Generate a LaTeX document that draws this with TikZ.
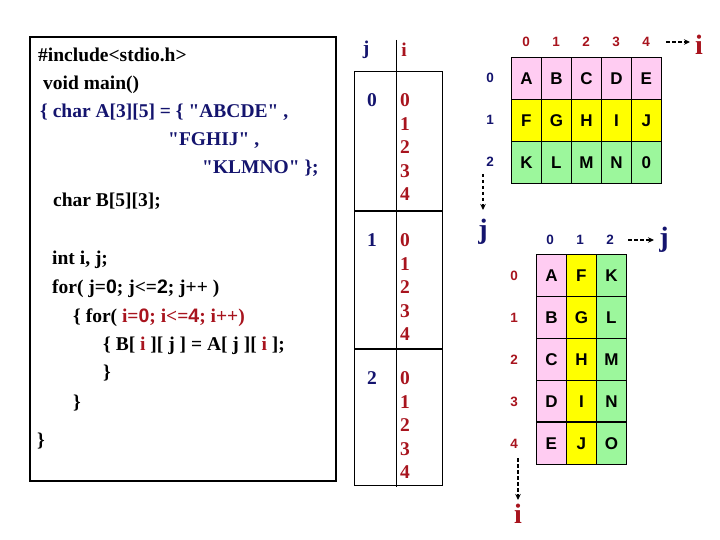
\documentclass[tikz,border=0pt]{standalone}
\usepackage{fontspec}
\setmainfont{Liberation Serif}[Ligatures=TeXOff]
\newfontfamily\arial{Liberation Sans}
\usetikzlibrary{arrows.meta}
\definecolor{navy}{HTML}{14146E}
\definecolor{dred}{HTML}{A8141E}
\definecolor{pinkc}{HTML}{FFCCF2}
\definecolor{yelc}{HTML}{FFFF00}
\definecolor{grnc}{HTML}{9CF79C}
\tikzset{
 code/.style={anchor=base west, inner sep=0, font=\fontsize{19.5}{21}\selectfont\bfseries},
 cell/.style={draw, line width=0.8pt, minimum width=30pt, minimum height=42pt, inner sep=0, font=\arial\fontsize{17}{19}\selectfont\bfseries, anchor=north west},
 idx/.style={font=\arial\fontsize{13.5}{15}\selectfont\bfseries, inner sep=0},
 big/.style={font=\fontsize{28}{30}\selectfont\bfseries, inner sep=0},
 tab/.style={font=\fontsize{19.5}{21}\selectfont\bfseries, inner sep=0},
 dasharrow/.style={line width=1.4pt, dash pattern=on 3.5pt off 2.5pt, -{Stealth[length=6pt,width=5.5pt]}},
 frame/.style={draw, line width=1.2pt},
}
\newcommand{\sn}[1]{{\arial #1}}
\begin{document}
\begin{tikzpicture}[x=1pt,y=-1pt]
\useasboundingbox[fill=white] (0,0) rectangle (720,540);
% code box
\draw[frame] (30,37) rectangle (336,481);
\node[code] (l1) at (38,62) {\#include<stdio.h>};
\node[code] (l2) at (43,90) {void main()};
\node[code,text=navy] (l3) at (40,118) {\{ char A[3][5] = \{ "ABCDE" ,};
\node[code,text=navy] (l4) at (168,146) {"FGHIJ" ,};
\node[code,text=navy] (l5) at (202,174) {"KLMNO" \};};
\node[code] (l6) at (53,207) {char B[5][3];};
\node[code] (l7) at (52,264) {int i, j;};
\node[code] (l8) at (52,293) {for( j=\sn{0}; j<=\sn{2}; j++ )};
\node[code] (l9) at (73,322) {\{ for( \textcolor{dred}{i=\sn{0}; i<=\sn{4}; i++)}};
\node[code] (l10) at (103,350) {\{ B[ \textcolor{dred}{i} ][ j ] = A[ j ][ \textcolor{dred}{i} ];};
\node[code] (l11) at (103,378) {\}};
\node[code] (l12) at (73,408) {\}};
\node[code] (l13) at (37,446) {\}};
% j/i table
\draw[line width=1pt] (354,72) rectangle (442,485);
\draw[line width=1pt] (396,40) -- (396,487);
\draw[line width=1.6pt] (354,211) -- (442,211);
\draw[line width=1.6pt] (354,349) -- (442,349);
\node[tab,text=navy] (hj) at (366,50) {j};
\node[tab,text=dred] (hi) at (404,50) {i};
\foreach \b/\y in {0/100,1/240,2/378}{
  \node[tab,text=navy] (tj\b) at (372,\y) {\b};
  \foreach \k in {0,...,4}{
    \node[tab,text=dred] (ti\b\k) at (405,\y+23.6*\k) {\k};
  }
}
% grid A
\foreach \r/\fillc/\lets in {0/pinkc/{A,B,C,D,E},1/yelc/{F,G,H,I,J},2/grnc/{K,L,M,N,0}}{
  \foreach \L [count=\c from 0] in \lets {
    \node[cell,fill=\fillc] (a\r\c) at (511+30*\c,57+42*\r) {\L};
  }
}
\foreach \c in {0,...,4}{
  \node[idx,text=dred] (ac\c) at (526+30*\c,42) {\c};
}
\foreach \r in {0,1,2}{
  \node[idx,text=navy] (ar\r) at (490,78+42*\r) {\r};
}
\node[big,text=dred] (ai) at (699,45) {i};
\coordinate (ais) at (666,42);
\coordinate (aie) at (690,42);
\draw[dasharrow] (ais) -- (aie);
\coordinate (ajs) at (483,174);
\coordinate (aje) at (483,210);
\node[big,text=navy] (aj) at (483,232) {j};
\draw[dasharrow] (ajs) -- (aje);
% grid B
\foreach \r/\x/\y/\z in {0/A/F/K,1/B/G/L,2/C/H/M,3/D/I/N,4/E/J/O}{
  \node[cell,fill=pinkc] (b\r0) at (536,254+42*\r) {\x};
  \node[cell,fill=yelc] (b\r1) at (566,254+42*\r) {\y};
  \node[cell,fill=grnc] (b\r2) at (596,254+42*\r) {\z};
}
\draw[line width=1.6pt] (b40.north west) -- (b42.north east);
\foreach \c in {0,1,2}{
  \node[idx,text=navy] (bc\c) at (550+30*\c,240) {\c};
}
\foreach \r in {0,...,4}{
  \node[idx,text=dred] (br\r) at (514,276+42*\r) {\r};
}
\node[big,text=navy] (bj) at (664,240) {j};
\coordinate (bjs) at (628,240);
\coordinate (bje) at (654,240);
\draw[dasharrow] (bjs) -- (bje);
\coordinate (bis) at (518,458);
\coordinate (bie) at (518,500);
\node[big,text=dred] (bi) at (518,514) {i};
\draw[dasharrow] (bis) -- (bie);
\end{tikzpicture}
\end{document}
